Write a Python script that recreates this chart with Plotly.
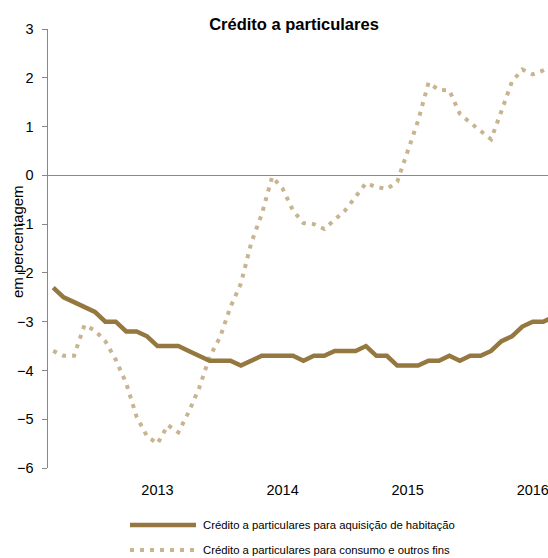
import plotly.graph_objects as go

# Monthly observations, Mar 2012 .. Mar 2016 (year-on-year rate of change, %)
months = [f"{y}-{m:02d}" for y, m in
          [(2012, m) for m in range(3, 13)] + [(2013, m) for m in range(1, 13)] +
          [(2014, m) for m in range(1, 13)] + [(2015, m) for m in range(1, 13)] +
          [(2016, m) for m in range(1, 4)]]

habitacao = [-2.3, -2.5, -2.6, -2.7, -2.8, -3.0, -3.0, -3.2, -3.2, -3.3,
             -3.5, -3.5, -3.5, -3.6, -3.7, -3.8, -3.8, -3.8, -3.9, -3.8,
             -3.7, -3.7, -3.7, -3.7, -3.8, -3.7, -3.7, -3.6, -3.6, -3.6,
             -3.5, -3.7, -3.7, -3.9, -3.9, -3.9, -3.8, -3.8, -3.7, -3.8,
             -3.7, -3.7, -3.6, -3.4, -3.3, -3.1, -3.0, -3.0, -2.9]

consumo = [-3.6, -3.7, -3.7, -3.07, -3.18, -3.4, -3.78, -4.26, -4.95, -5.35,
           -5.5, -5.12, -5.27, -4.85, -4.36, -3.72, -3.32, -2.7, -2.22, -1.38,
           -0.8, -0.03, -0.27, -0.72, -0.98, -1.0, -1.1, -0.92, -0.72, -0.44,
           -0.16, -0.24, -0.28, -0.13, 0.5, 1.12, 1.9, 1.75, 1.74, 1.26,
           1.08, 0.9, 0.74, 1.32, 1.92, 2.17, 2.07, 2.15, 2.25]

year_ticks = ["2013-01", "2014-01", "2015-01", "2016-01"]
year_labels = ["2013", "2014", "2015", "2016"]
y_ticks = [3, 2, 1, 0, -1, -2, -3, -4, -5, -6]

name_hab = "Crédito a particulares para aquisição de habitação"
name_con = "Crédito a particulares para consumo e outros fins"

C_HAB = "#947840"
C_CON = "#C8B491"
GRAY = "#888888"
SANS = "Liberation Sans, Arial, sans-serif"

fig = go.Figure()
fig.add_trace(go.Scatter(x=months, y=consumo, mode="lines", name=name_con,
                         line=dict(color=C_CON, width=4, dash="4px,6px"),
                         showlegend=False, hoverinfo="skip"))
fig.add_trace(go.Scatter(x=months, y=habitacao, mode="lines", name=name_hab,
                         line=dict(color=C_HAB, width=4.5),
                         showlegend=False, hoverinfo="skip"))

fig.update_layout(
    width=548, height=558,
    margin=dict(l=48, r=0, t=29, b=90, autoexpand=False),
    paper_bgcolor="white", plot_bgcolor="white",
    title=dict(text="<b>Crédito a particulares</b>", x=294 / 548,
               xanchor="center", y=1 - 24 / 558, yanchor="middle",
               yref="container",
               font=dict(family=SANS, size=16.5, color="black")),
    xaxis=dict(type="category", range=[-0.5, 47.46], showgrid=False,
               showline=False, zeroline=False, ticks="",
               tickmode="array", tickvals=year_ticks, ticktext=year_labels,
               tickfont=dict(family=SANS, size=14.5, color="black"),
               ticklabelstandoff=11),
    yaxis=dict(range=[-6, 3], tickmode="array", tickvals=y_ticks,
               showgrid=False, showline=True, linecolor=GRAY, linewidth=1.5,
               ticks="outside", ticklen=5, tickcolor=GRAY, tickwidth=1,
               zeroline=True, zerolinecolor=GRAY, zerolinewidth=1.2,
               tickfont=dict(family=SANS, size=14.5, color="black"),
               ticklabelstandoff=5),
)

# y-axis caption
fig.add_annotation(text="em percentagem", textangle=-90, xref="paper", yref="paper",
                   x=(18 - 48) / 500, y=(468 - 242) / 439, xanchor="center",
                   yanchor="middle", showarrow=False,
                   font=dict(family=SANS, size=15, color="black"))

# Manual legend (long line samples as in the original)
for yy, col, dash, w, label in [(525, C_HAB, None, 4.5, name_hab),
                                (550, C_CON, "4px,6px", 4, name_con)]:
    py = (468 - yy) / 439
    fig.add_shape(type="line", xref="paper", yref="paper",
                  x0=(130 - 48) / 500, x1=(196 - 48) / 500, y0=py, y1=py,
                  line=dict(color=col, width=w, dash=dash))
    fig.add_annotation(text=label, xref="paper", yref="paper",
                       x=(201 - 48) / 500, y=py, xanchor="left", yanchor="middle",
                       showarrow=False,
                       font=dict(family=SANS, size=11.3, color="black"))

fig.write_html("out.html",
               config={"displayModeBar": False, "staticPlot": True},
               post_script="document.body.style.margin='0';"
                           "document.body.style.overflow='hidden';")
